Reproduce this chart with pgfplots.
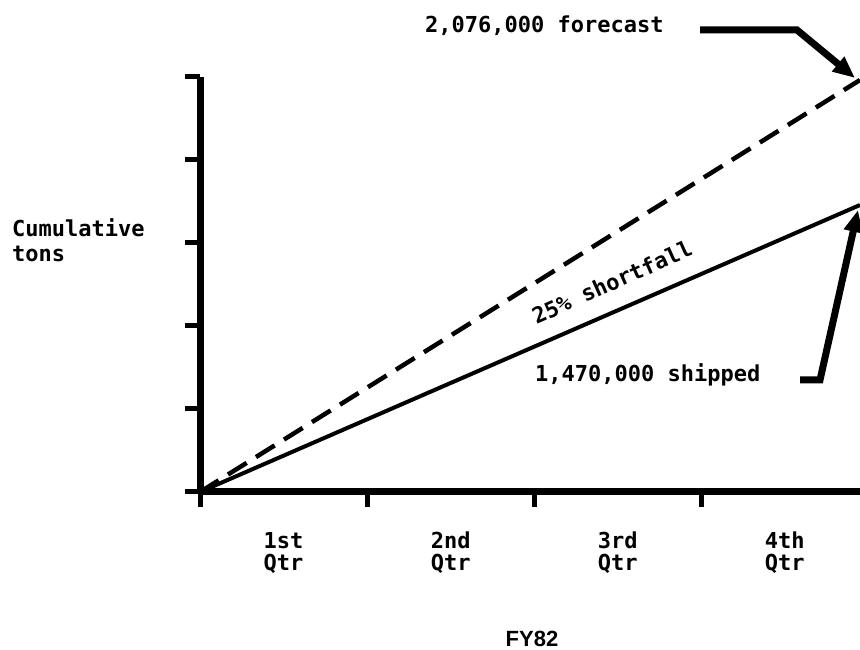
\documentclass[border=0pt]{standalone}
\usepackage{fontspec}
\setmainfont{DejaVu Sans Mono}
\newfontfamily\fysans{Liberation Sans}
\usepackage{pgfplots}
\pgfplotsset{compat=1.18}
\usetikzlibrary{arrows.meta}
\begin{document}
\begin{tikzpicture}[x=1pt,y=1pt]
\useasboundingbox (0,0) rectangle (860,650);
\begin{axis}[
  at={(200pt,158pt)}, anchor=south west,
  scale only axis, width=660pt, height=415pt,
  xmin=0, xmax=3.95, ymin=0, ymax=2075000,
  axis lines=left,
  axis line style={-, line width=7pt, line cap=butt},
  clip=false,
  xtick={0,1,2,3}, xticklabels={},
  ytick={0,415000,830000,1245000,1660000,2075000}, yticklabels={},
  scaled ticks=false,
  tick align=outside,
  major tick length=15pt,
  every tick/.style={black, line width=5pt},
  extra x ticks={0.5,1.5,2.5,3.5},
  extra x tick labels={1st\\Qtr,2nd\\Qtr,3rd\\Qtr,4th\\Qtr},
  extra x tick style={major tick length=0pt,
    xticklabel style={anchor=north, align=center, inner sep=0pt, yshift=-40pt,
      font=\bfseries\fontsize{22}{22}\selectfont}},
]
\addplot[black, line width=4.5pt, dash pattern=on 22pt off 11pt] coordinates {(0,0) (3.95,2060000)};
\addplot[black, line width=4pt] coordinates {(0,0) (3.95,1435000)};
\end{axis}
\node[anchor=base west, inner sep=0pt, font=\bfseries\fontsize{22}{24}\selectfont] at (425,617) {2,076,000 forecast};
\draw[line width=7pt, -{Triangle[length=22pt,width=18pt]}] (700,620) -- (797,620) -- (855,572);
\node[anchor=center, inner sep=0pt, rotate=24, font=\bfseries\fontsize{22}{24}\selectfont] at (612,368) {25\% shortfall};
\node[anchor=base west, inner sep=0pt, font=\bfseries\fontsize{22}{24}\selectfont] at (535,268) {1,470,000 shipped};
\draw[line width=7pt, -{Triangle[length=22pt,width=18pt]}] (800,270) -- (820,270) -- (858,440);
\node[anchor=base west, inner sep=0pt, font=\bfseries\fontsize{22}{24}\selectfont] at (12,413) {Cumulative};
\node[anchor=base west, inner sep=0pt, font=\bfseries\fontsize{22}{24}\selectfont] at (12,388) {tons};
\node[anchor=base, inner sep=0pt, font=\fysans\bfseries\fontsize{22}{24}\selectfont] at (532,3) {FY82};
\end{tikzpicture}
\end{document}
